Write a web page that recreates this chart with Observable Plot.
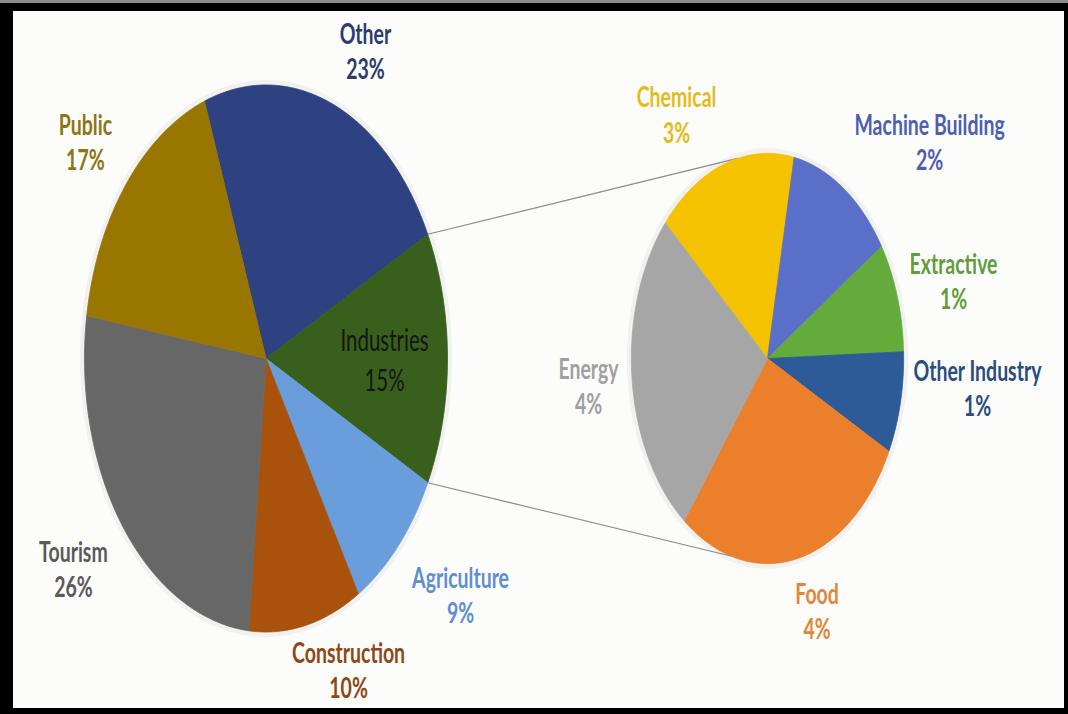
<!DOCTYPE html>
<html>
<head>
<meta charset="utf-8">
<script src="https://cdn.jsdelivr.net/npm/d3@7"></script>
<script src="https://cdn.jsdelivr.net/npm/@observablehq/plot@0.6"></script>
<style>
  html, body { margin: 0; padding: 0; background: #000; }
  #frame { position: relative; width: 1068px; height: 714px; box-sizing: border-box;
           background: #000; border-top: 3px solid #8c8c8c; overflow: hidden; }
  #chart { position: absolute; left: 13px; top: 8px; }
</style>
</head>
<body>
<div id="frame"><div id="chart"></div></div>
<script>
// ---------------- data ----------------
const mainCategories = ["Other", "Industries", "Agriculture", "Construction", "Tourism", "Public"];
const mainValues     = [23, 15, 9, 10, 26, 17];
const mainPctLabels  = ["23%", "15%", "9%", "10%", "26%", "17%"];

const subCategories  = ["Chemical", "Machine Building", "Extractive", "Other Industry", "Food", "Energy"];
const subValues      = [2.5, 1.9, 1.3, 1.2, 4.2, 3.9];
const subPctLabels   = ["3%", "2%", "1%", "1%", "4%", "4%"];

const splitCategory  = "Industries";

// ---------------- styles / layout ----------------
const mainColors = ["#2e4180", "#38601c", "#6a9ddb", "#a8520c", "#676767", "#987600"];
const subColors  = ["#f5c200", "#5a6fc7", "#63ab3a", "#2d5b97", "#ec7f2c", "#a6a6a6"];
const mainTextColors = ["#2b3b6e", "#151515", "#5e8fcf", "#8d4815", "#5a5a5a", "#8d7416"];
const subTextColors  = ["#e3bc1c", "#4d5fb0", "#5f9e3b", "#2b4d7e", "#e0873a", "#a0a0a0"];

// label anchor positions in chart units (pie radius = 1)
const mainLabelPos = [[0.548, 1.128], [0.653, 0.0], [1.072, -0.863], [0.455, -1.137], [-1.061, -0.768], [-0.995, 0.795]];
const subLabelPos  = [[2.262, 0.895], [3.656, 0.795], [3.788, 0.285], [3.92, -0.106], [3.036, -0.921], [1.777, -0.099]];

const mainCenter = [0, 0], mainRadius = 1;
const subCenter  = [2.763, 0], subRadius = 0.75;
const subStartDeg = -48.7;           // where the second pie starts (clockwise from 12 o'clock)
const connectorDeg = [-12.7, 195.7]; // where the connector lines touch the second pie

// main pie rotated so that the split slice is centred at 3 o'clock
const total = d3.sum(mainValues);
const splitIdx = mainCategories.indexOf(splitCategory);
const before = d3.sum(mainValues.slice(0, splitIdx)) / total * 360;
const splitSweep = mainValues[splitIdx] / total * 360;
const mainStartDeg = 90 - splitSweep / 2 - before;

const rad = d => d * Math.PI / 180;

function pieRings(cats, vals, center, r, startDeg) {
  const tot = d3.sum(vals);
  const pts = [];
  let a = startDeg;
  const bounds = [];
  cats.forEach((c, i) => {
    const sweep = vals[i] / tot * 360;
    const a0 = a, a1 = a + sweep;
    bounds.push([a0, a1]);
    pts.push({category: c, x: center[0], y: center[1]});
    const n = Math.max(4, Math.ceil(sweep * 2));
    for (let k = 0; k <= n; k++) {
      const t = rad(a0 + (a1 - a0) * k / n);
      pts.push({category: c, x: center[0] + r * Math.sin(t), y: center[1] + r * Math.cos(t)});
    }
    pts.push({category: c, x: center[0], y: center[1]});
    a = a1;
  });
  return {pts, bounds};
}

const mainPie = pieRings(mainCategories, mainValues, mainCenter, mainRadius, mainStartDeg);
const subPie  = pieRings(subCategories, subValues, subCenter, subRadius, subStartDeg);

function outline(center, r) {
  const o = [];
  for (let k = 0; k <= 360; k += 2) o.push({x: center[0] + r * Math.sin(rad(k)), y: center[1] + r * Math.cos(rad(k))});
  return o;
}

const [sa0, sa1] = mainPie.bounds[splitIdx];
const connectors = [
  {x1: mainCenter[0] + mainRadius * Math.sin(rad(sa0)), y1: mainCenter[1] + mainRadius * Math.cos(rad(sa0)),
   x2: subCenter[0] + subRadius * Math.sin(rad(connectorDeg[0])), y2: subCenter[1] + subRadius * Math.cos(rad(connectorDeg[0]))},
  {x1: mainCenter[0] + mainRadius * Math.sin(rad(sa1)), y1: mainCenter[1] + mainRadius * Math.cos(rad(sa1)),
   x2: subCenter[0] + subRadius * Math.sin(rad(connectorDeg[1])), y2: subCenter[1] + subRadius * Math.cos(rad(connectorDeg[1]))}
];

const labels = [
  ...mainCategories.map((c, i) => ({text: c + "\n" + mainPctLabels[i], x: mainLabelPos[i][0], y: mainLabelPos[i][1], color: mainTextColors[i], inside: c === splitCategory})),
  ...subCategories.map((c, i) => ({text: c + "\n" + subPctLabels[i], x: subLabelPos[i][0], y: subLabelPos[i][1], color: subTextColors[i], inside: false}))
];

const font = "Lato, Calibri, Carlito, 'Open Sans', sans-serif";

const chart = Plot.plot({
  width: 1051,
  height: 697,
  margin: 0,
  x: {domain: [-1, 1], range: [71, 434], axis: null},
  y: {domain: [-1, 1], range: [620.5, 73.5], axis: null},
  color: {domain: [...mainCategories, ...subCategories], range: [...mainColors, ...subColors]},
  style: {background: "#fcfcfa", fontFamily: font, overflow: "visible"},
  marks: [
    // soft shadow around each pie
    Plot.line(outline(mainCenter, mainRadius * 1.006), {x: "x", y: "y", stroke: "#000", strokeOpacity: 0.045, strokeWidth: 7}),
    Plot.line(outline(subCenter, subRadius * 1.008), {x: "x", y: "y", stroke: "#000", strokeOpacity: 0.045, strokeWidth: 7}),
    Plot.link(connectors, {x1: "x1", y1: "y1", x2: "x2", y2: "y2", stroke: "#8a8a8a", strokeWidth: 1.1}),
    Plot.line(mainPie.pts, {x: "x", y: "y", z: "category", fill: "category", stroke: "category", strokeWidth: 0.8}),
    Plot.line(subPie.pts, {x: "x", y: "y", z: "category", fill: "category", stroke: "category", strokeWidth: 0.8}),
    ...labels.map(d => Plot.text([d], {
      x: "x", y: "y", text: "text",
      fill: d.color,
      fontSize: d.inside ? 20.5 : 19.5,
      fontWeight: d.inside ? 400 : 700,
      lineHeight: d.inside ? 1.3 : 1.2,
      fontFamily: font
    }))
  ]
});

// the reference picture is stretched vertically by 1.5: stretch the label text in the same way
chart.querySelectorAll("text").forEach(t => {
  const tr = t.getAttribute("transform");
  if (tr) {
    t.setAttribute("transform", tr + " scale(1,1.5)");
  } else {
    const x = t.getAttribute("x") || 0, y = t.getAttribute("y") || 0;
    t.removeAttribute("x"); t.removeAttribute("y");
    t.setAttribute("transform", `translate(${x},${y}) scale(1,1.5)`);
  }
});

document.getElementById("chart").appendChild(chart);
</script>
</body>
</html>
